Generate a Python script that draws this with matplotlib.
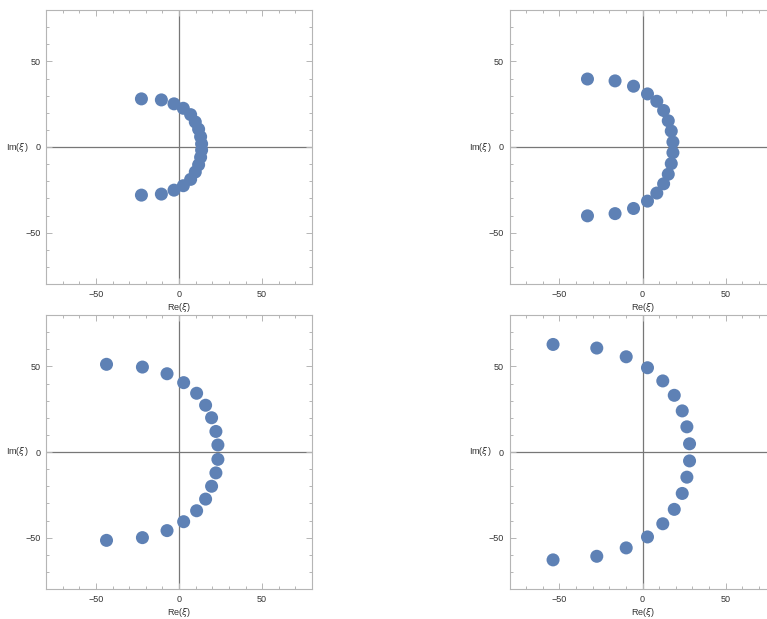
import numpy as np
import matplotlib
matplotlib.use("Agg")
import matplotlib.pyplot as plt
from matplotlib.ticker import MultipleLocator

# Data: roots in the complex plane (Re, Im), four panels
re_1 = [-22.6, -10.6, -3.0, 2.6, 7.0, 9.8, 11.8, 13.0, 13.6,
        13.6, 13.0, 11.8, 9.8, 7.0, 2.6, -3.0, -10.6, -22.6]
im_1 = [28.1, 27.5, 25.2, 22.6, 18.9, 14.6, 10.4, 6.0, 1.8,
        -1.8, -6.0, -10.4, -14.6, -18.9, -22.6, -25.2, -27.5, -28.1]

re_2 = [-33.1, -16.5, -5.4, 3.0, 8.6, 12.7, 15.5, 17.3, 18.3,
        18.3, 17.3, 15.5, 12.7, 8.6, 3.0, -5.4, -16.5, -33.1]
im_2 = [39.7, 38.6, 35.5, 31.0, 26.7, 21.3, 15.3, 9.3, 2.9,
        -3.3, -9.7, -15.9, -21.5, -26.9, -31.6, -35.9, -38.9, -40.2]

re_3 = [-43.6, -22.0, -7.2, 2.8, 10.6, 16.0, 19.6, 22.2, 23.4,
        23.4, 22.2, 19.6, 16.0, 10.6, 2.8, -7.2, -22.0, -43.6]
im_3 = [51.2, 49.6, 45.7, 40.5, 34.3, 27.3, 20.0, 12.0, 4.1,
        -4.3, -12.2, -20.0, -27.5, -34.3, -40.7, -45.9, -50.0, -51.6]

re_4 = [-53.8, -27.5, -9.8, 3.0, 12.2, 19.1, 23.9, 26.7, 28.3,
        28.3, 26.7, 23.9, 19.1, 12.2, 3.0, -9.8, -27.5, -53.8]
im_4 = [62.8, 60.7, 55.6, 49.2, 41.5, 33.1, 24.0, 14.7, 4.8,
        -5.2, -14.7, -24.2, -33.5, -41.9, -49.6, -56.0, -60.9, -63.0]

panels = [(re_1, im_1), (re_2, im_2), (re_3, im_3), (re_4, im_4)]

W, H = 767, 619
fig = plt.figure(figsize=(W / 100, H / 100), dpi=100)
plt.rcParams['font.family'] = ['Liberation Sans', 'DejaVu Sans']

# axes boxes in pixels: left, top (from top of image)
boxes = [(46, 10), (509.5, 10), (46, 315), (509.5, 315)]
bw, bh = 266, 274

dot = "#5E81B5"
frame = "#b5b5b5"
txt = "#333333"

for (re, im), (l, t) in zip(panels, boxes):
    ax = fig.add_axes([l / W, (H - t - bh) / H, bw / W, bh / H])
    ax.set_xlim(-80, 80)
    ax.set_ylim(-80, 80)
    ax.axhline(0, color="#777777", lw=0.9, zorder=1)
    ax.axvline(0, color="#777777", lw=0.9, zorder=1)
    ax.scatter(re, im, s=88, color=dot, edgecolors="none", zorder=3)

    for sp in ax.spines.values():
        sp.set_color(frame)
        sp.set_linewidth(0.8)
    ax.xaxis.set_major_locator(MultipleLocator(50))
    ax.yaxis.set_major_locator(MultipleLocator(50))
    ax.xaxis.set_minor_locator(MultipleLocator(10))
    ax.yaxis.set_minor_locator(MultipleLocator(10))
    ax.tick_params(which="both", direction="in", top=True, right=True,
                   color=frame, width=0.7, labelsize=6.5, labelcolor=txt)
    ax.tick_params(which="major", length=4, pad=4)
    ax.tick_params(which="minor", length=2)

    ax.set_xlabel(r"Re($\xi$)", fontsize=6.5, color=txt, va="center")
    ax.xaxis.set_label_coords(0.5, -0.085)
    ax.set_ylabel(r"Im($\xi$)", fontsize=6.5, color=txt, rotation=0,
                  ha="center", va="center")
    ax.yaxis.set_label_coords(-0.11, 0.5)

plt.savefig("out.png", dpi=100)
